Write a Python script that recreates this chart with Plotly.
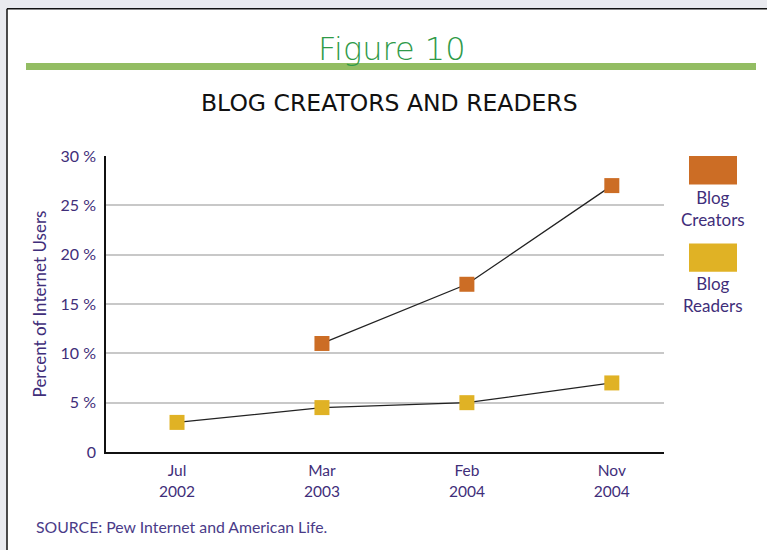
import plotly.graph_objects as go

# ---- data ----
periods = ["Jul<br>2002", "Mar<br>2003", "Feb<br>2004", "Nov<br>2004"]
creator_periods = ["Mar<br>2003", "Feb<br>2004", "Nov<br>2004"]
creators = [11, 17, 27]
readers = [3, 4.5, 5, 7]
y_ticks = [0, 5, 10, 15, 20, 25, 30]
y_tick_labels = ["0", "5 %", "10 %", "15 %", "20 %", "25 %", "30 %"]

PURPLE = "#3f2e7a"
ORANGE = "#cc6d25"
YELLOW = "#e0b225"
FONT = "Lato"
OUTSIDE = "#e9eaef"

fig = go.Figure()
fig.add_trace(go.Scatter(
    x=creator_periods, y=creators, mode="lines+markers", name="Blog Creators",
    line=dict(color="#222222", width=1.3),
    marker=dict(symbol="square", size=15, color=ORANGE),
))
fig.add_trace(go.Scatter(
    x=periods, y=readers, mode="lines+markers", name="Blog Readers",
    line=dict(color="#222222", width=1.3),
    marker=dict(symbol="square", size=15, color=YELLOW),
))

W, H = 767, 550
L, T = 106, 156
R, B = 103, 98.4
pw, ph = W - L - R, H - T - B


def px(xs):
    return (xs - L) / pw


def py(ys):
    return (H - B - ys) / ph


shapes = [
    # grey page surround (top strip and left strip)
    dict(type="rect", xref="paper", yref="paper", x0=px(-5), x1=px(775), y0=py(-5), y1=py(9),
         fillcolor=OUTSIDE, line=dict(width=0), layer="below"),
    dict(type="rect", xref="paper", yref="paper", x0=px(-5), x1=px(7), y0=py(-5), y1=py(560),
         fillcolor=OUTSIDE, line=dict(width=0), layer="below"),
    # frame edges of the card
    dict(type="line", xref="paper", yref="paper", x0=px(7), x1=px(775), y0=py(9), y1=py(9),
         line=dict(color="#111111", width=1.5), layer="below"),
    dict(type="line", xref="paper", yref="paper", x0=px(7), x1=px(7), y0=py(9), y1=py(560),
         line=dict(color="#111111", width=1.5), layer="below"),
    # green rule under the figure number
    dict(type="line", xref="paper", yref="paper", x0=px(26), x1=px(756), y0=py(66.5), y1=py(66.5),
         line=dict(color="#93bd63", width=7), layer="below"),
    # legend swatches
    dict(type="rect", xref="paper", yref="paper", x0=px(689), x1=px(737), y0=py(156), y1=py(184.5),
         fillcolor=ORANGE, line=dict(width=0)),
    dict(type="rect", xref="paper", yref="paper", x0=px(689), x1=px(737), y0=py(243.3), y1=py(271.7),
         fillcolor=YELLOW, line=dict(width=0)),
]

annotations = [
    dict(text="Figure 10", xref="paper", yref="paper", x=px(391), y=py(49), showarrow=False,
         xanchor="center", yanchor="middle",
         font=dict(family="DejaVu Sans", size=32, color="#2f9a48", weight=200)),
    dict(text="BLOG CREATORS AND READERS", xref="paper", yref="paper", x=px(389), y=py(103),
         showarrow=False, xanchor="center", yanchor="middle",
         font=dict(family="DejaVu Sans", size=23.5, color="#111111")),
    dict(text="Blog<br>Creators", xref="paper", yref="paper", x=px(713), y=py(208.5),
         showarrow=False, xanchor="center", yanchor="middle",
         font=dict(family=FONT, size=17, color=PURPLE)),
    dict(text="Blog<br>Readers", xref="paper", yref="paper", x=px(713), y=py(294.5),
         showarrow=False, xanchor="center", yanchor="middle",
         font=dict(family=FONT, size=17, color=PURPLE)),
    dict(text="SOURCE: Pew Internet and American Life.", xref="paper", yref="paper",
         x=px(34), y=py(526), showarrow=False, xanchor="left", yanchor="middle",
         font=dict(family=FONT, size=15.8, color="#4a3b88")),
]

fig.update_layout(
    width=W, height=H,
    margin=dict(l=L, r=R, t=T, b=B, pad=0),
    paper_bgcolor="white", plot_bgcolor="white",
    showlegend=False,
    shapes=shapes, annotations=annotations,
    font=dict(family=FONT, color=PURPLE, size=14),
)
fig.update_xaxes(
    type="category", categoryorder="array", categoryarray=periods,
    range=[-0.49, 3.36], showgrid=False, zeroline=False,
    showline=True, linecolor="#111111", linewidth=1.5,
    ticks="", ticklabelstandoff=4, tickfont=dict(family=FONT, size=15.5, color=PURPLE),
)
fig.update_yaxes(
    range=[0, 30], tickvals=y_ticks, ticktext=y_tick_labels,
    showgrid=True, gridcolor="#c8c8c8", gridwidth=1.5, zeroline=False,
    showline=True, linecolor="#111111", linewidth=1.5,
    ticks="", ticklabelstandoff=5,
    tickfont=dict(family=FONT, size=16, color=PURPLE),
    title=dict(text="Percent of Internet Users", standoff=10,
               font=dict(family=FONT, size=17, color=PURPLE)),
)

page_js = (
    "document.documentElement.style.overflow = 'hidden';"
    "document.body.style.margin = '0';"
    "document.body.style.overflow = 'hidden';"
    "document.body.style.background = 'white';"
)
fig.write_html("out.html", post_script=page_js, config={"displayModeBar": False})
